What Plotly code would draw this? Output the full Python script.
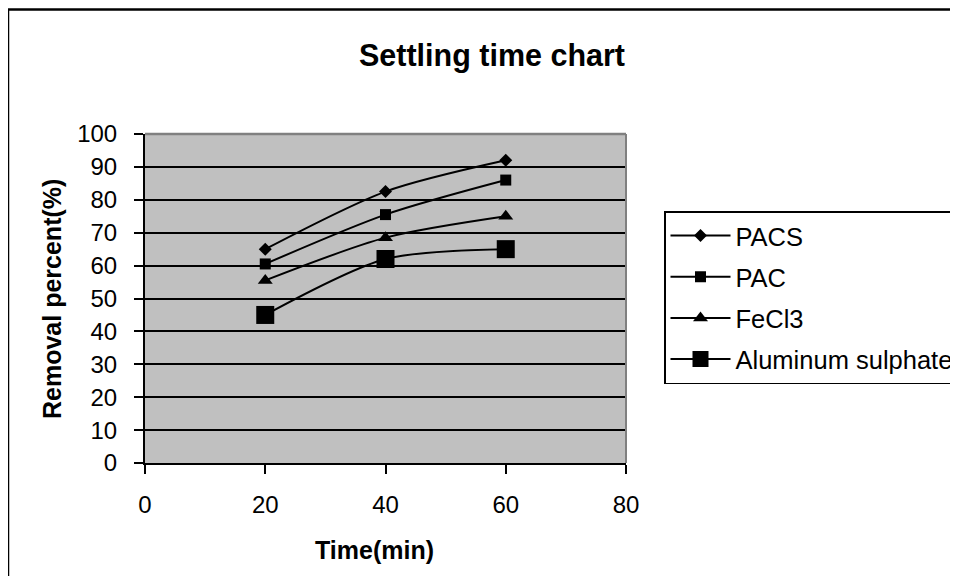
import plotly.graph_objects as go

time_min = [20, 40, 60]
pacs = [65, 82.5, 92]
pac = [60.5, 75.5, 86]
fecl3 = [55.5, 68.5, 75]
al_sulphate = [45, 62, 65]

series_names = ["PACS", "PAC", "FeCl3", "Aluminum sulphate"]
series_values = [pacs, pac, fecl3, al_sulphate]
symbols = ["diamond", "square", "triangle-up", "square"]
sizes = [10, 11, 13, 18]

FONT = "Liberation Sans, Arial, sans-serif"

fig = go.Figure()
for i, (name, vals) in enumerate(zip(series_names, series_values)):
    fig.add_trace(go.Scatter(
        x=time_min, y=vals, name=name, mode="lines+markers",
        line=dict(color="black", width=2, shape="spline", smoothing=0.8),
        marker=dict(symbol=symbols[i], size=sizes[i], color="black"),
        legendgroup=f"g{i}",
    ))

# page has an 8px body margin; positions below are measured on screen
OFF = 8
W, H = 950, 568
L, R, T, B = 137, 332, 126, 113
pw, ph = W - L - R, H - T - B

def px(sx):
    return (sx - OFF - L) / pw

def py(sy):
    return (H - B - (sy - OFF)) / ph

fig.update_layout(
    width=W, height=H,
    margin=dict(l=L, r=R, t=T, b=B, autoexpand=False),
    paper_bgcolor="white", plot_bgcolor="#C0C0C0",
    font=dict(family=FONT, color="black", size=24),
    title=dict(text="<b>Settling time chart</b>", x=(492 - OFF) / W, xanchor="center",
               y=1 - (55 - OFF) / H, yanchor="middle", font=dict(size=30.5, family=FONT)),
    showlegend=True,
    legend=dict(x=px(664), y=py(211), xanchor="left", yanchor="top",
                bordercolor="black", borderwidth=1.5, bgcolor="white",
                font=dict(size=25.5, family=FONT), tracegroupgap=5,
                itemwidth=60),
    xaxis=dict(range=[0, 80], tickvals=[0, 20, 40, 60, 80], showgrid=False,
               zeroline=False, showline=True, linecolor="black", linewidth=2,
               ticks="outside", ticklen=9, tickwidth=1.5, tickcolor="black",
               ticklabelstandoff=10, tickfont=dict(size=24)),
    yaxis=dict(range=[0, 100], tickvals=list(range(0, 101, 10)), showgrid=True,
               gridcolor="black", gridwidth=1.5, zeroline=False, showline=True,
               linecolor="black", linewidth=2, ticks="outside", ticklen=9,
               tickwidth=1.5, tickcolor="black", ticklabelstandoff=12,
               tickfont=dict(size=24)),
    shapes=[
        dict(type="line", xref="paper", yref="paper", x0=0, x1=1, y0=1, y1=1,
             line=dict(color="#808080", width=2.5), layer="above"),
        dict(type="line", xref="paper", yref="paper", x0=1, x1=1, y0=0, y1=1,
             line=dict(color="#808080", width=2), layer="above"),
        dict(type="line", xref="paper", yref="paper", x0=px(8), x1=px(8),
             y0=py(9), y1=py(620), line=dict(color="black", width=2.5)),
        dict(type="line", xref="paper", yref="paper", x0=px(7), x1=px(990),
             y0=py(9.5), y1=py(9.5), line=dict(color="black", width=2.5)),
    ],
    annotations=[
        dict(text="<b>Removal percent(%)</b>", xref="paper", yref="paper",
             x=px(52), y=py(299), textangle=-90, showarrow=False,
             font=dict(size=25, family=FONT), xanchor="center", yanchor="middle"),
        dict(text="<b>Time(min)</b>", xref="paper", yref="paper",
             x=px(374), y=py(550), showarrow=False,
             font=dict(size=25, family=FONT), xanchor="center", yanchor="middle"),
    ],
)

fig.write_html("out.html")
